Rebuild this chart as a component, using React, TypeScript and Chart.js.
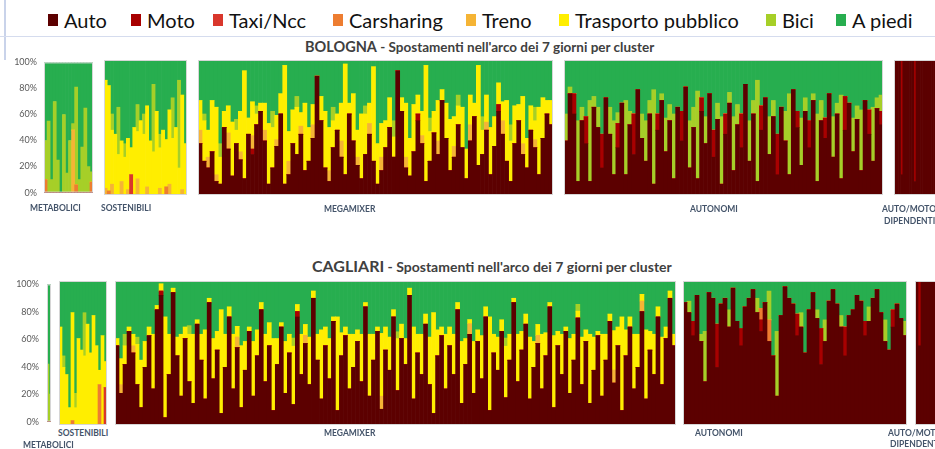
import React, { useEffect, useRef } from "react";
import { Chart, registerables } from "chart.js";
Chart.register(...registerables);

// ---------- series / legend ----------
const SERIES = ["Auto", "Moto", "Taxi/Ncc", "Carsharing", "Treno", "Trasporto pubblico", "Bici", "A piedi"];
const COLORS = ["#5c0000", "#a80000", "#d9372c", "#ed7d31", "#f5b435", "#ffee00", "#a6cf28", "#27ae4f"];
const Y_TICKS = [0, 20, 40, 60, 80, 100];
const Y_TICK_LABELS = ["0%", "20%", "40%", "60%", "80%", "100%"];

// ---------- BOLOGNA ----------
// Metabolici
const BO_MET_CAR = [10,0,0,0,0,0,0,0,0,0,6,0,0,0,0,8];
const BO_MET_TRENO = [0,0,0,0,0,0,0,0,0,48,0,0,0,0,0,0];
const BO_MET_BICI = [30,55,10,70,25,0,60,15,40,5,75,10,35,65,20,8];
const BO_MET_PIEDI = [60,45,90,30,75,100,40,85,60,47,19,90,65,35,80,84];
// Sostenibili
const BO_SOS_TAXI = [0,0,0,0,0,0,0,0,15,0,0,0,0,0,0,0,0,0,0,0,0,0,0,0,0,0];
const BO_SOS_CAR = [0,3,0,0,0,0,0,0,0,0,0,0,0,0,0,0,0,0,0,6,0,0,0,0,0,0];
const BO_SOS_TRENO = [5,0,8,0,0,10,0,4,0,0,12,0,0,6,0,0,0,5,0,0,8,0,0,0,4,0];
const BO_SOS_TP = [80,78,40,45,30,30,28,38,20,50,35,55,45,60,40,32,62,30,48,35,55,42,50,20,70,38];
const BO_SOS_BICI = [0,0,12,0,35,0,10,0,0,0,20,0,15,0,0,50,0,10,0,0,0,30,0,65,0,0];
const BO_SOS_PIEDI = [15,19,40,55,35,60,62,58,65,50,33,45,40,34,60,18,38,55,52,59,37,28,50,15,26,62];
// Megamixer
const BO_MEGA_AUTO = [38,25,20,32,10,8,50,34,14,38,26,12,45,30,52,62,40,8,20,36,60,8,15,38,30,45,18,25,42,88,55,20,10,35,48,28,15,60,40,22,12,30,45,25,8,18,35,50,28,92,62,20,14,32,55,38,10,25,46,30,70,42,18,28,52,35,12,40,58,22,30,48,15,36,62,45,25,10,38,55,30,20,48,35,15,42,60,52];
const BO_MEGA_MOTO = [0,0,0,0,0,0,0,0,0,0,0,0,0,4,0,0,0,0,0,0,0,0,0,0,0,0,0,0,0,0,0,0,0,0,0,0,0,0,0,0,0,0,0,0,0,0,0,0,0,0,0,0,0,0,5,0,0,0,0,0,0,0,0,0,0,0,0,0,0,0,0,0,0,0,5,0,0,0,0,0,0,0,0,0,0,0,0,0];
const BO_MEGA_TRENO = [10,0,8,0,5,0,0,12,0,0,6,0,0,10,0,0,8,0,0,5,0,0,10,0,0,6,0,0,10,0,0,0,8,0,0,12,0,0,0,6,0,0,8,0,0,10,0,0,0,0,0,8,0,0,0,6,0,0,0,10,0,0,0,8,0,0,0,12,0,0,0,6,0,0,0,10,0,0,0,0,8,0,0,6,0,0,0,0];
const BO_MEGA_TP = [22,30,20,38,50,20,12,20,40,10,30,80,12,25,8,6,20,45,30,18,15,88,22,25,35,10,50,25,15,0,18,42,32,20,12,28,82,8,35,20,48,30,15,70,30,25,20,22,15,0,10,40,28,35,14,18,86,22,16,30,8,26,38,22,14,30,22,22,10,74,18,20,35,22,16,14,45,30,28,12,35,22,18,14,50,30,10,18];
const BO_MEGA_BICI = [0,5,0,0,0,10,0,0,0,8,0,0,0,0,6,0,0,0,12,0,0,0,0,0,8,0,0,0,0,0,0,0,0,10,0,0,0,0,0,0,0,6,0,0,0,0,0,0,12,0,0,0,0,0,0,0,0,10,0,0,0,0,0,0,8,0,0,0,0,0,10,0,0,0,0,0,0,12,0,0,0,0,0,10,0,0,0,0];
const BO_MEGA_PIEDI = [30,40,52,30,35,62,38,34,46,44,38,8,43,31,34,32,32,47,38,41,25,4,53,37,27,39,32,50,33,12,27,38,50,35,40,32,3,32,25,52,40,34,32,5,62,47,45,28,45,8,28,32,58,33,26,38,4,43,38,30,22,32,44,42,26,35,66,26,32,4,42,26,50,42,17,31,30,48,34,33,27,58,34,35,35,28,30,30];
// Autonomi
const BO_AUT_AUTO = [40,75,60,10,55,38,10,65,50,20,72,45,15,35,68,15,52,30,78,42,25,60,8,48,70,32,55,12,65,40,80,20,50,12,62,38,75,28,56,8,45,68,18,52,35,82,25,60,10,48,72,30,58,15,65,40,15,78,50,22,62,35,70,10,55,42,75,28,60,12,48,68,32,56,18,70,45,25,64,52];
const BO_AUT_MOTO = [0,0,15,0,0,20,0,0,0,25,0,0,0,18,0,0,0,30,0,0,0,0,0,12,0,0,0,0,0,22,0,0,0,0,10,0,0,20,0,0,15,0,0,0,25,0,0,0,0,18,0,0,0,30,0,0,0,0,12,0,0,20,0,0,0,15,0,0,0,0,25,0,0,0,0,0,18,0,0,10];
const BO_AUT_BICI = [20,5,0,45,10,0,60,8,15,0,0,20,40,8,0,55,10,0,0,18,30,10,70,0,5,25,12,48,0,0,0,35,15,65,0,20,0,0,12,50,0,8,40,15,0,0,30,10,75,0,0,28,12,0,0,22,60,0,0,35,10,0,5,50,15,0,0,30,8,62,0,0,25,10,45,0,0,40,8,12];
const BO_AUT_PIEDI = [40,20,25,45,35,42,30,27,35,55,28,35,45,39,32,30,38,40,22,40,45,30,22,40,25,43,33,40,35,38,20,45,35,23,28,42,25,52,32,42,40,24,42,33,40,18,45,30,15,34,28,42,30,55,35,38,25,22,38,43,28,45,25,40,30,43,25,42,32,26,27,32,43,34,37,30,37,35,28,26];
// Auto/Moto dipendenti
const BO_AM_AUTO = [100,100,100,15,100,100,100,100,100,10,100,100,100,100,100,100,100,100,100,100,25,100,100,100,100,100,100,100,100,100];
const BO_AM_MOTO = [0,0,0,85,0,0,0,0,0,90,0,0,0,0,0,0,0,0,0,0,75,0,0,0,0,0,0,0,0,0];

// ---------- CAGLIARI ----------
// Metabolici
const CA_MET_BICI = [42,20];
const CA_MET_PIEDI = [58,80];
// Sostenibili
const CA_SOS_TAXI = [0,0,0,0,0,0,0,0,0,0,0,0,0,0,0,26];
const CA_SOS_CAR = [0,0,0,0,3,0,0,0,0,0,0,0,0,28,0,0];
const CA_SOS_TP = [68,40,35,12,75,12,60,52,48,70,50,76,55,10,62,18];
const CA_SOS_BICI = [0,8,0,0,0,10,0,0,30,0,0,0,0,0,0,0];
const CA_SOS_PIEDI = [32,52,65,88,22,78,40,48,22,30,50,24,45,62,38,56];
// Megamixer
const CA_MEGA_AUTO = [55,22,42,65,50,28,12,40,62,25,80,90,5,35,92,48,20,60,30,15,70,45,18,85,32,52,8,40,75,25,58,12,38,65,20,48,80,30,55,10,42,68,22,50,15,78,35,60,28,88,45,18,55,32,72,10,48,62,25,40,58,30,82,20,45,65,12,52,38,75,25,60,42,90,18,50,35,70,28,8,48,62,25,55,35,80,15,42,68,22,58,32,75,10,50,38,65,20,45,85,30,52,70,18,40,60,25,48,82,12,55,35,65,22,45,78,28,58,15,38,62,20,45,72,32,55,10,48,68,25,40,85,18,52,35,75,28,60,88,55];
const CA_MEGA_MOTO = [0,0,0,0,0,0,0,0,0,0,0,3,0,0,0,0,0,0,0,0,0,0,0,0,0,0,0,0,0,0,0,0,0,0,0,0,0,0,0,0,0,0,0,0,0,4,0,0,0,0,0,0,0,0,0,0,0,0,0,0,0,0,0,0,0,0,0,0,0,0,0,0,0,0,0,0,0,0,0,0,0,0,0,0,0,0,0,0,0,0,0,0,0,0,0,0,0,0,0,0,0,0,0,0,0,0,0,0,0,0,0,0,0,0,0,0,0,0,0,0,0,0,0,0,0,0,0,0,0,0,0,0,0,0,0,0,0,0,0,0];
const CA_MEGA_TRENO = [0,6,0,0,5,0,0,0,0,0,0,0,0,0,0,0,0,0,0,0,0,0,0,0,0,0,0,0,0,0,8,0,0,0,0,0,0,0,0,0,0,0,0,0,0,0,0,6,0,0,0,0,0,0,0,0,0,0,0,0,0,0,0,0,0,0,10,0,0,0,0,0,0,0,0,0,0,0,0,0,0,0,0,0,0,0,0,0,8,0,0,0,0,0,0,0,0,0,0,0,0,0,0,0,0,6,0,0,0,0,0,0,0,0,0,0,0,0,0,0,0,0,0,0,10,0,0,0,0,0,0,8,0,0,0,0,0,0,0,0];
const CA_MEGA_TP = [5,18,13,3,8,28,33,18,6,38,3,5,70,28,3,13,43,8,33,48,3,18,48,3,28,13,72,23,7,38,8,43,20,3,38,18,5,33,16,50,18,3,36,13,43,5,28,8,33,5,18,48,13,28,3,65,16,6,38,23,8,33,3,43,18,3,48,16,23,5,38,10,18,5,50,13,28,7,33,70,18,6,38,13,28,5,43,18,3,36,8,30,7,65,13,23,8,38,18,3,33,13,7,43,18,8,38,16,3,50,10,28,3,38,18,5,33,8,48,23,3,43,18,5,30,13,65,18,7,38,23,5,48,13,28,7,33,8,5,8];
const CA_MEGA_BICI = [0,0,8,0,0,5,0,0,0,0,0,0,0,0,0,0,0,0,6,0,0,0,0,0,0,0,0,0,0,0,0,0,0,0,0,0,0,0,0,0,0,0,0,0,6,0,0,0,0,0,0,0,0,0,0,0,0,0,0,0,0,0,0,0,0,0,0,0,0,0,5,0,0,0,0,0,0,0,0,0,0,0,0,0,0,0,0,0,0,0,0,0,0,0,0,0,0,6,0,0,0,0,0,0,0,0,0,0,0,0,0,0,0,0,0,5,0,0,0,0,0,0,0,0,0,0,0,0,0,0,0,0,0,0,0,0,0,0,0,0];
const CA_MEGA_PIEDI = [40,54,37,32,37,39,55,42,32,37,17,2,25,37,5,39,37,32,31,37,27,37,34,12,40,35,20,37,18,37,34,45,42,32,42,34,15,37,29,40,40,29,42,37,42,17,37,32,39,7,37,34,32,40,25,25,36,32,37,37,34,37,15,37,37,32,40,32,39,20,37,30,40,5,32,37,37,23,39,22,34,32,37,32,37,15,42,40,29,42,34,38,18,25,37,39,27,42,37,12,37,35,23,39,42,32,37,36,15,38,35,37,32,40,37,17,39,34,37,39,35,37,37,23,38,32,25,34,25,37,37,10,34,35,37,18,39,32,7,37];
// Autonomi
const CA_AUT_AUTO = [85,78,62,90,58,30,92,88,40,84,88,68,95,72,55,82,88,94,78,65,85,58,48,20,76,96,88,84,62,68,50,80,92,74,42,58,86,94,84,68,48,76,80,90,86,62,72,88,94,78,58,52,68,84,74,62];
const CA_AUT_MOTO = [0,0,10,0,0,0,0,0,30,0,0,0,0,0,12,0,0,0,0,8,0,0,0,0,0,0,0,0,15,0,0,0,0,0,25,0,0,0,0,0,20,0,0,0,0,10,0,0,0,0,0,0,12,0,0,0];
const CA_AUT_CAR = [0,0,0,0,0,0,0,0,0,0,0,0,0,0,0,0,0,0,0,8,0,15,0,0,0,0,0,0,0,0,0,0,0,0,0,0,0,0,0,0,0,0,0,0,0,0,0,0,0,0,0,0,0,0,0,0];
const CA_AUT_BICI = [0,8,0,0,5,35,0,0,0,0,0,12,0,0,0,0,0,0,10,0,0,20,0,45,0,0,0,0,0,10,0,0,0,6,0,15,0,0,0,8,0,0,0,0,0,0,10,0,0,0,15,0,0,0,0,10];
const CA_AUT_PIEDI = [15,14,28,10,37,35,8,12,30,16,12,20,5,28,33,18,12,6,12,19,15,7,52,35,24,4,12,16,23,22,50,20,8,20,33,27,14,6,16,24,32,24,20,10,14,28,18,12,6,22,27,48,20,16,26,28];
// Auto/Moto dipendenti
const CA_AM_AUTO = [100,55,100,100,100,100,100,100,100,100,100,100,100,100,100];
const CA_AM_MOTO = [0,45,0,0,0,0,0,0,0,0,0,0,0,0,0];

// ---------- layout ----------
type Cluster = { x: number; y: number; w: number; h: number; axis?: boolean; pad?: number; series: (number[] | null)[] };
const BO_Y = 60, BO_H = 135, CA_Y = 281, CA_H = 144;
// series order: Auto, Moto, Taxi, Carsharing, Treno, TP, Bici, A piedi
const CLUSTERS: Cluster[] = [
  { x: 44, y: BO_Y, w: 49, h: BO_H, axis: true, pad: 7, series: [null, null, null, BO_MET_CAR, BO_MET_TRENO, null, BO_MET_BICI, BO_MET_PIEDI] },
  { x: 104, y: BO_Y, w: 83, h: BO_H, series: [null, null, BO_SOS_TAXI, BO_SOS_CAR, BO_SOS_TRENO, BO_SOS_TP, BO_SOS_BICI, BO_SOS_PIEDI] },
  { x: 198, y: BO_Y, w: 355, h: BO_H, series: [BO_MEGA_AUTO, BO_MEGA_MOTO, null, null, BO_MEGA_TRENO, BO_MEGA_TP, BO_MEGA_BICI, BO_MEGA_PIEDI] },
  { x: 564, y: BO_Y, w: 319, h: BO_H, series: [BO_AUT_AUTO, BO_AUT_MOTO, null, null, null, null, BO_AUT_BICI, BO_AUT_PIEDI] },
  { x: 894, y: BO_Y, w: 66, h: BO_H, series: [BO_AM_AUTO, BO_AM_MOTO, null, null, null, null, null, null] },
  { x: 47, y: CA_Y, w: 4, h: CA_H, axis: true, pad: 8, series: [null, null, null, null, null, null, CA_MET_BICI, CA_MET_PIEDI] },
  { x: 59, y: CA_Y, w: 48, h: CA_H, series: [null, null, CA_SOS_TAXI, CA_SOS_CAR, null, CA_SOS_TP, CA_SOS_BICI, CA_SOS_PIEDI] },
  { x: 115, y: CA_Y, w: 561, h: CA_H, series: [CA_MEGA_AUTO, CA_MEGA_MOTO, null, null, CA_MEGA_TRENO, CA_MEGA_TP, CA_MEGA_BICI, CA_MEGA_PIEDI] },
  { x: 683, y: CA_Y, w: 224, h: CA_H, series: [CA_AUT_AUTO, CA_AUT_MOTO, null, CA_AUT_CAR, null, null, CA_AUT_BICI, CA_AUT_PIEDI] },
  { x: 915, y: CA_Y, w: 45, h: CA_H, series: [CA_AM_AUTO, CA_AM_MOTO, null, null, null, null, null, null] },
];

const CLUSTER_LABELS = [
  { t: "METABOLICI", x: 30, y: 208 },
  { t: "SOSTENIBILI", x: 101, y: 208 },
  { t: "MEGAMIXER", x: 324, y: 209 },
  { t: "AUTONOMI", x: 690, y: 209 },
  { t: "AUTO/MOTO", x: 882, y: 209 },
  { t: "DIPENDENTI", x: 884, y: 221 },
  { t: "SOSTENIBILI", x: 58, y: 433 },
  { t: "METABOLICI", x: 23, y: 445 },
  { t: "MEGAMIXER", x: 324, y: 433 },
  { t: "AUTONOMI", x: 695, y: 433 },
  { t: "AUTO/MOTO", x: 888, y: 433 },
  { t: "DIPENDENTI", x: 890, y: 444 },
];

const LEGEND_X = [48, 131, 213, 333, 466, 559, 766, 836];
const FONT = "Lato, 'Open Sans', sans-serif";

const boxPlugin = {
  id: "boxBorder",
  afterDatasetsDraw(chart: any) {
    const { ctx, chartArea: a } = chart;
    ctx.save();
    ctx.strokeStyle = "#d6d6d6";
    ctx.lineWidth = 1;
    ctx.strokeRect(a.left + 0.5, a.top + 0.5, a.right - a.left - 1, a.bottom - a.top - 1);
    ctx.restore();
  },
};

function ClusterChart({ c }: { c: Cluster }) {
  const ref = useRef<HTMLCanvasElement>(null);
  const axisW = c.axis ? c.x : 0;
  const cw = c.w + axisW;
  const ch = c.h + (c.axis ? 20 : 0);
  useEffect(() => {
    const first = c.series.find((s) => s) as number[];
    const totals = first.map((_, i) => c.series.reduce((s, a) => s + (a ? a[i] : 0), 0));
    const datasets = SERIES.map((label, k) => {
      const arr = c.series[k];
      return {
        label,
        data: first.map((_, i) => (arr ? (arr[i] / totals[i]) * 100 : 0)),
        backgroundColor: COLORS[k],
        borderWidth: 0,
        barPercentage: 1,
        categoryPercentage: 1,
        stack: "s",
      };
    });
    const chart = new Chart(ref.current!, {
      type: "bar",
      data: { labels: first.map((_, i) => String(i + 1)), datasets },
      options: {
        animation: false,
        responsive: false,
        maintainAspectRatio: false,
        layout: { padding: c.axis ? { top: 10, bottom: 10, left: 0, right: 0 } : 0 },
        plugins: { legend: { display: false }, tooltip: { enabled: false } },
        scales: {
          x: { stacked: true, display: false },
          y: {
            stacked: true,
            min: 0,
            max: 100,
            display: !!c.axis,
            grid: { display: false, drawTicks: false },
            border: { display: false },
            afterFit: (s: any) => { s.width = axisW; },
            ticks: {
              stepSize: 20,
              padding: c.pad ?? 7,
              color: "#595959",
              font: { size: 9, family: FONT },
              callback: (v: any) => Y_TICK_LABELS[Y_TICKS.indexOf(Number(v))] ?? "",
            },
          },
        },
      } as any,
      plugins: [boxPlugin],
    });
    return () => chart.destroy();
  }, []);
  return (
    <canvas
      ref={ref}
      width={cw}
      height={ch}
      style={{ position: "absolute", left: c.axis ? 0 : c.x, top: c.axis ? c.y - 10 : c.y, width: cw, height: ch }}
    />
  );
}

export default function App() {
  return (
    <div style={{ position: "absolute", left: 0, top: 0, width: 935, height: 449, overflow: "hidden", background: "#fff", fontFamily: FONT }}>
      <div style={{ position: "absolute", left: 4, top: 0, width: 2, height: 60, background: "#c9d3ea" }} />
      <div style={{ position: "absolute", left: 0, top: 36, width: 935, height: 1, background: "#d5dcee" }} />
      {SERIES.map((s, i) => (
        <div key={s} style={{ position: "absolute", left: LEGEND_X[i], top: 8, height: 24, display: "flex", alignItems: "center", whiteSpace: "nowrap" }}>
          <span style={{ display: "inline-block", width: 10, height: 12, background: COLORS[i], marginRight: 6 }} />
          <span style={{ fontSize: 20, color: "#111", lineHeight: 1 }}>{s}</span>
        </div>
      ))}
      <div style={{ position: "absolute", left: 305, top: 37, whiteSpace: "nowrap", color: "#404040", lineHeight: "18px" }}>
        <span style={{ fontSize: 14.5, fontWeight: 700 }}>BOLOGNA</span>
        <span style={{ fontSize: 13.5, fontWeight: 700 }}> - Spostamenti nell'arco dei 7 giorni per cluster</span>
      </div>
      <div style={{ position: "absolute", left: 312, top: 256, whiteSpace: "nowrap", color: "#404040", lineHeight: "20px" }}>
        <span style={{ fontSize: 16, fontWeight: 700 }}>CAGLIARI</span>
        <span style={{ fontSize: 14, fontWeight: 700 }}> - Spostamenti nell'arco dei 7 giorni per cluster</span>
      </div>
      {CLUSTERS.map((c, i) => (
        <ClusterChart key={i} c={c} />
      ))}
      {CLUSTER_LABELS.map((l, i) => (
        <div key={i} style={{ position: "absolute", left: l.x, top: l.y - 6, lineHeight: "12px", fontSize: 8.5, fontWeight: 700, color: "#44546a", whiteSpace: "nowrap" }}>
          {l.t}
        </div>
      ))}
    </div>
  );
}
